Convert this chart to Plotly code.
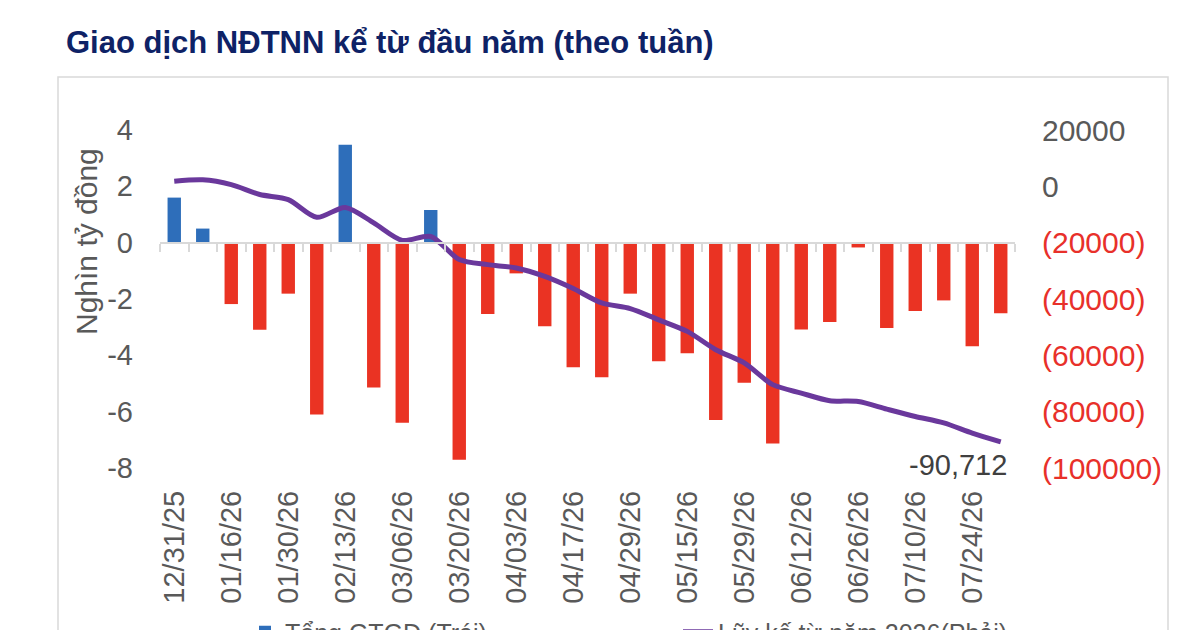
import plotly.graph_objects as go

# ---------------- data ----------------
weeks = ["12/31/25", "01/09/26", "01/16/26", "01/23/26", "01/30/26", "02/06/26",
         "02/13/26", "02/27/26", "03/06/26", "03/13/26", "03/20/26", "03/27/26",
         "04/03/26", "04/10/26", "04/17/26", "04/24/26", "04/29/26", "05/08/26",
         "05/15/26", "05/22/26", "05/29/26", "06/05/26", "06/12/26", "06/19/26",
         "06/26/26", "07/03/26", "07/10/26", "07/17/26", "07/24/26", "07/31/26"]

# weekly net value, thousand billion VND (left axis)
weekly_value = [1.6, 0.5, -2.18, -3.09, -1.81, -6.1, 3.48, -5.14, -6.39, 1.16,
                -7.71, -2.53, -1.09, -2.97, -4.42, -4.78, -1.81, -4.21, -3.93, -6.3,
                -4.97, -7.13, -3.08, -2.82, -0.17, -3.03, -2.43, -2.05, -3.68, -2.51]

# cumulative since start of year, billion VND (right axis)
cumulative = [1800, 2300, 600, -2900, -4700, -11000, -7500, -13000, -19200, -17800,
              -26000, -27800, -29000, -32000, -36300, -41400, -43400, -47400, -51500, -58000,
              -62700, -70400, -73400, -76100, -76400, -79100, -81700, -84000, -87600, -90712]

left_ticks = [4, 2, 0, -2, -4, -6, -8]
right_ticks = [20000, 0, -20000, -40000, -60000, -80000, -100000]

title_text = "Giao dịch NĐTNN kể từ đầu năm (theo tuần)"
bar_name = "Tổng GTGD (Trái)"
line_name = "Lũy kế từ năm 2026(Phải)"
left_title = "Nghìn tỷ đồng"

# ---------------- styling ----------------
FONT = "Liberation Sans, Arial, Helvetica, sans-serif"
GREY = "#595959"
RED_TXT = "#E8302A"
BLUE = "#2E6EBA"
RED = "#EA3323"
PURPLE = "#6A389C"
W, H = 1200, 675
L, R, T, B = 160, 185, 130, H - 468
PW, PH = W - L - R, 468 - 130
LEG_Y = 632


def fmt_right(v):
    if v < 0:
        return f"<span style='color:{RED_TXT}'>({abs(v)})</span>"
    return f"{v}"


def fmt_left(v):
    return f"-{abs(v)}" if v < 0 else f"{v}"


bar_colors = [BLUE if v >= 0 else RED for v in weekly_value]

fig = go.Figure()
fig.add_trace(go.Bar(
    x=weeks, y=weekly_value, name=bar_name,
    marker=dict(color=bar_colors, line=dict(width=0)),
    xaxis="x", yaxis="y", legend="legend",
))
fig.add_trace(go.Scatter(
    x=weeks, y=cumulative, name=line_name, mode="lines",
    line=dict(color=PURPLE, width=5, shape="spline", smoothing=0.8),
    xaxis="x", yaxis="y2", legend="legend2",
))
# invisible helper trace carrying the category-boundary ticks on the zero line
fig.add_trace(go.Scatter(
    x=weeks, y=[0] * len(weeks), mode="markers", marker=dict(opacity=0),
    showlegend=False, hoverinfo="skip", xaxis="x2", yaxis="y",
))

n = len(weeks)
zero_pos = (0 - left_ticks[-1]) / (left_ticks[0] - left_ticks[-1])

fig.update_layout(
    width=W, height=H,
    margin=dict(l=L, r=R, t=T, b=B, pad=0),
    paper_bgcolor="white", plot_bgcolor="white",
    font=dict(family=FONT, color=GREY, size=29),
    bargap=0.53,
    title=dict(text=f"<b>{title_text}</b>", x=66 / W, xanchor="left",
               y=1 - 42 / H, yanchor="middle", yref="container",
               font=dict(size=31, color="#0E2266", family=FONT)),
    xaxis=dict(type="category", categoryorder="array", categoryarray=weeks,
               range=[-0.5, n - 0.5], tickvals=weeks[::2], tickangle=-90,
               showline=False, showgrid=False, zeroline=False, ticks="",
               ticklabelstandoff=16, tickfont=dict(size=29, color=GREY)),
    xaxis2=dict(type="category", categoryorder="array", categoryarray=weeks,
                range=[-0.5, n - 0.5], overlaying="x", anchor="free",
                position=zero_pos, showticklabels=False, showgrid=False,
                zeroline=False, showline=True, linecolor="#D9D9D9", linewidth=2,
                ticks="outside", tickson="boundaries", ticklen=8,
                tickcolor="#D9D9D9", tickwidth=1.5),
    yaxis=dict(range=[left_ticks[-1], left_ticks[0]], tickvals=left_ticks,
               ticktext=[fmt_left(v) for v in left_ticks],
               showgrid=False, zeroline=False, showline=False, ticks="",
               ticklabelstandoff=26, tickfont=dict(size=29, color=GREY)),
    yaxis2=dict(range=[right_ticks[-1], right_ticks[0]], overlaying="y", side="right",
                tickvals=right_ticks, ticktext=[fmt_right(v) for v in right_ticks],
                showgrid=False, zeroline=False, showline=False, ticks="",
                ticklabelstandoff=26, tickfont=dict(size=30, color=GREY)),
    legend=dict(orientation="h", x=(245 - L) / PW, xanchor="left",
                y=(468 - LEG_Y) / PH, yanchor="middle",
                font=dict(size=25, color=GREY), bgcolor="rgba(0,0,0,0)"),
    legend2=dict(orientation="h", x=(678 - L) / PW, xanchor="left",
                 y=(468 - LEG_Y) / PH, yanchor="middle",
                 font=dict(size=25, color=GREY), bgcolor="rgba(0,0,0,0)"),
    showlegend=True,
)

# chart frame
fig.add_shape(type="rect", xref="paper", yref="paper", layer="below",
              x0=(58 - L) / PW, x1=(1168 - L) / PW,
              y0=(468 - 740) / PH, y1=(468 - 77) / PH,
              line=dict(color="#D9D9D9", width=1.5), fillcolor="rgba(0,0,0,0)")

# left axis title
fig.add_annotation(text=left_title, xref="paper", yref="paper",
                   x=(86 - L) / PW, y=(468 - 242) / PH,
                   showarrow=False, textangle=-90,
                   font=dict(size=30, color=GREY, family=FONT),
                   xanchor="center", yanchor="middle")

# end-of-line value label
fig.add_annotation(text=f"-{abs(cumulative[-1]):,}", xref="x", yref="y2",
                   x=weeks[-1], y=cumulative[-1], showarrow=False,
                   xanchor="right", yanchor="top", xshift=8, yshift=-5,
                   font=dict(size=29, color="#404040", family=FONT))

fig.write_html("out.html", config={"displayModeBar": False}, post_script=(
    "document.documentElement.style.overflow='hidden';"
    "document.body.style.overflow='hidden';"
    "document.body.style.margin='0';"
))
